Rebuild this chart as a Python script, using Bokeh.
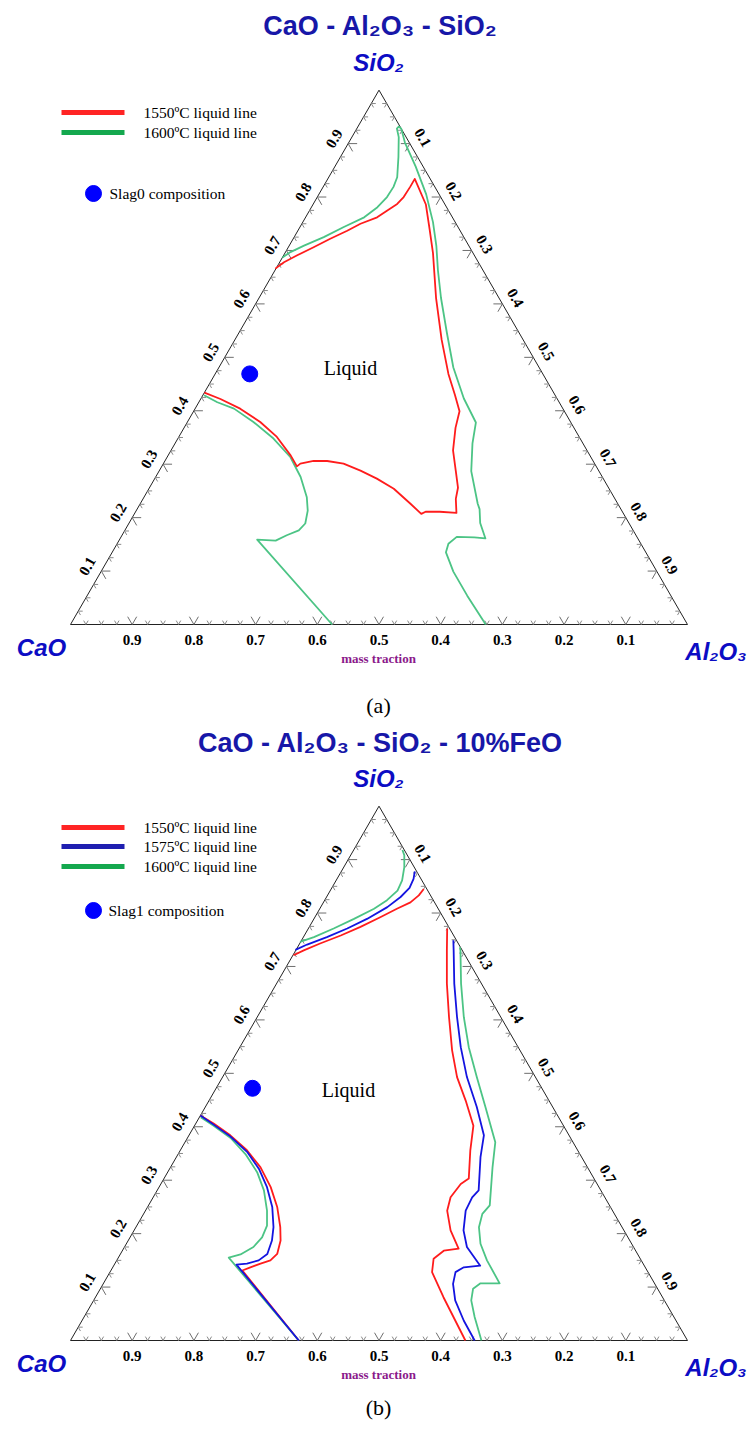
import numpy as np
from bokeh.plotting import figure
from bokeh.models import Range1d
from bokeh.core.properties import value
from bokeh.embed import file_html
from bokeh.resources import INLINE

# ---------------- data: compositions (mass fraction CaO, SiO2) ----------------
# Diagram (a): CaO - Al2O3 - SiO2
A_RED_CAO = [0.566, 0.546, 0.523, 0.503, 0.490, 0.485, 0.485, 0.477, 0.453, 0.431, 0.407, 0.386,
             0.367, 0.349, 0.336, 0.328, 0.319, 0.296, 0.270, 0.258, 0.244, 0.232, 0.217, 0.192,
             0.170, 0.162, 0.153, 0.132, 0.102, 0.065, 0.048, 0.031, 0.025, 0.040, 0.060, 0.077,
             0.099, 0.122, 0.155, 0.183, 0.218, 0.253, 0.287, 0.315, 0.335]
A_RED_SIO2 = [0.434, 0.422, 0.404, 0.379, 0.351, 0.316, 0.296, 0.301, 0.306, 0.306, 0.301, 0.288,
              0.273, 0.254, 0.226, 0.207, 0.211, 0.211, 0.209, 0.235, 0.256, 0.287, 0.326, 0.368,
              0.399, 0.430, 0.469, 0.533, 0.611, 0.695, 0.740, 0.786, 0.834, 0.819, 0.800, 0.787,
              0.775, 0.762, 0.750, 0.737, 0.722, 0.706, 0.691, 0.678, 0.666]

A_GREEN_LOW_CAO = [0.569, 0.554, 0.533, 0.514, 0.497, 0.487, 0.489, 0.498, 0.509, 0.525, 0.542,
                   0.566, 0.589, 0.618, 0.576]
A_GREEN_LOW_SIO2 = [0.429, 0.416, 0.404, 0.379, 0.348, 0.313, 0.276, 0.238, 0.213, 0.189, 0.176,
                    0.167, 0.157, 0.159, 0.000]

A_GREEN_UP_CAO = [0.313, 0.295, 0.267, 0.227, 0.185, 0.143, 0.112, 0.087, 0.067, 0.052, 0.031,
                  0.012, 0.007, 0.002, 0.000, 0.007, 0.012, 0.021, 0.036, 0.053, 0.073, 0.094,
                  0.117, 0.139, 0.151, 0.154, 0.179, 0.207, 0.227, 0.229, 0.241, 0.247, 0.264,
                  0.292, 0.312, 0.324, 0.330, 0.330, 0.327]
A_GREEN_UP_SIO2 = [0.687, 0.697, 0.709, 0.725, 0.744, 0.762, 0.781, 0.800, 0.819, 0.837, 0.875,
                   0.912, 0.928, 0.932, 0.928, 0.902, 0.857, 0.805, 0.753, 0.708, 0.663, 0.611,
                   0.546, 0.481, 0.423, 0.378, 0.339, 0.287, 0.226, 0.216, 0.190, 0.161, 0.163,
                   0.164, 0.151, 0.135, 0.099, 0.054, 0.000]

SLAG0_CAO = [0.475]
SLAG0_SIO2 = [0.469]

# Diagram (b): CaO - Al2O3 - SiO2 - 10%FeO
B_RED_TOP_CAO = [0.278, 0.257, 0.224, 0.183, 0.143, 0.102, 0.067, 0.039, 0.019, 0.005]
B_RED_TOP_SIO2 = [0.721, 0.730, 0.743, 0.758, 0.774, 0.792, 0.808, 0.820, 0.833, 0.845]
B_BLUE_TOP_CAO = [0.270, 0.246, 0.207, 0.166, 0.125, 0.081, 0.050, 0.027, 0.012, 0.003]
B_BLUE_TOP_SIO2 = [0.731, 0.741, 0.755, 0.771, 0.789, 0.811, 0.830, 0.847, 0.864, 0.878]
B_GREEN_TOP_CAO = [0.255, 0.228, 0.188, 0.146, 0.104, 0.075, 0.049, 0.032, 0.016, 0.005, 0.003]
B_GREEN_TOP_SIO2 = [0.746, 0.755, 0.771, 0.789, 0.808, 0.824, 0.842, 0.861, 0.886, 0.908, 0.918]

B_RED_RIGHT_CAO = [0.004, 0.025, 0.056, 0.084, 0.110, 0.127, 0.135, 0.146, 0.174, 0.203, 0.221,
                   0.250, 0.268, 0.281, 0.285, 0.311, 0.335, 0.350, 0.355, 0.360]
B_RED_RIGHT_SIO2 = [0.771, 0.730, 0.668, 0.605, 0.543, 0.493, 0.449, 0.402, 0.356, 0.303, 0.293,
                    0.268, 0.243, 0.206, 0.172, 0.168, 0.153, 0.128, 0.081, 0.000]
B_BLUE_RIGHT_CAO = [0.005, 0.014, 0.044, 0.071, 0.093, 0.111, 0.123, 0.138, 0.164, 0.198, 0.215,
                    0.238, 0.260, 0.270, 0.266, 0.294, 0.312, 0.327, 0.339, 0.344, 0.345]
B_BLUE_RIGHT_SIO2 = [0.749, 0.730, 0.668, 0.605, 0.549, 0.493, 0.437, 0.384, 0.343, 0.281, 0.268,
                     0.243, 0.206, 0.175, 0.140, 0.137, 0.128, 0.106, 0.075, 0.037, 0.000]
B_GREEN_RIGHT_CAO = [0.001, 0.003, 0.033, 0.060, 0.080, 0.095, 0.109, 0.126, 0.154, 0.194, 0.214,
                     0.232, 0.245, 0.250, 0.251, 0.282, 0.299, 0.313, 0.323, 0.334]
B_GREEN_RIGHT_SIO2 = [0.736, 0.730, 0.668, 0.605, 0.549, 0.493, 0.437, 0.371, 0.324, 0.253, 0.237,
                      0.212, 0.181, 0.150, 0.107, 0.107, 0.097, 0.075, 0.044, 0.000]

B_RED_LEFT_CAO = [0.579, 0.565, 0.549, 0.536, 0.530, 0.532, 0.540, 0.554, 0.566, 0.584, 0.601,
                  0.620, 0.640, 0.656, 0.630]
B_RED_LEFT_SIO2 = [0.421, 0.406, 0.384, 0.356, 0.324, 0.287, 0.250, 0.212, 0.187, 0.162, 0.150,
                   0.144, 0.137, 0.131, 0.000]
B_BLUE_LEFT_CAO = [0.579, 0.566, 0.550, 0.537, 0.534, 0.538, 0.548, 0.565, 0.580, 0.600, 0.620,
                   0.642, 0.660, 0.630]
B_BLUE_LEFT_SIO2 = [0.421, 0.404, 0.382, 0.352, 0.321, 0.287, 0.250, 0.212, 0.187, 0.162, 0.150,
                    0.144, 0.142, 0.000]
B_GREEN_LEFT_CAO = [0.580, 0.567, 0.551, 0.542, 0.540, 0.546, 0.560, 0.574, 0.593, 0.616, 0.644,
                    0.666, 0.630]
B_GREEN_LEFT_SIO2 = [0.418, 0.402, 0.379, 0.349, 0.315, 0.281, 0.243, 0.215, 0.193, 0.175, 0.161,
                     0.155, 0.000]

SLAG1_CAO = [0.469]
SLAG1_SIO2 = [0.472]

TICK_VALUES = [0.1, 0.2, 0.3, 0.4, 0.5, 0.6, 0.7, 0.8, 0.9]
TITLES = ["CaO - Al\u2082O\u2083 - SiO\u2082", "CaO - Al\u2082O\u2083 - SiO\u2082 - 10%FeO"]
LEGEND_A = ["1550\u00baC liquid line", "1600\u00baC liquid line"]
LEGEND_B = ["1550\u00baC liquid line", "1575\u00baC liquid line", "1600\u00baC liquid line"]

# ---------------- styles ----------------
RED = "#ff1c1c"
BLUE = "#1414e0"
GREEN = "#4cc485"
LEG_RED = "#ff2424"
LEG_BLUE = "#1f1fb0"
LEG_GREEN = "#14a84e"
TITLE_COLOR = "#1717a8"
VERTEX_COLOR = "#0c0cc4"

# ---------------- figure in page-pixel units (figure drawn from page top-left) ----------------
W, H = 748, 1428
PAGE_H = 1429
p = figure(width=W, height=H, x_range=Range1d(0, W), y_range=Range1d(PAGE_H - H, PAGE_H),
           output_backend="svg", toolbar_location=None, min_border=0)
p.axis.visible = False
p.grid.visible = False
p.outline_line_color = None
p.background_fill_color = "white"
p.border_fill_color = "white"

L = 617.0
X0 = 70.0
HT = L * np.sqrt(3) / 2


def Y(py):
    return PAGE_H - py


def proj(c, s, base):
    c = np.asarray(c, dtype=float)
    s = np.asarray(s, dtype=float)
    return X0 + L * (1 - c - s / 2), Y(base - HT * s)


def txt(x, y, t, font, size, color="black", style="normal", align="center", angle=0.0, baseline="middle"):
    p.text(x=x, y=y, text=t, text_font=value(font), text_font_size=value(size), text_color=color,
           text_font_style=style, text_align=align, text_baseline=baseline, angle=angle)


def draw_triangle(base):
    # outline
    cx, cy = proj([1, 0, 0, 1], [0, 0, 1, 0], base)
    p.line(cx, cy, line_color="#222222", line_width=1)
    # ticks
    x0s, y0s, x1s, y1s = [], [], [], []
    gx0, gy0, gx1, gy1 = [], [], [], []
    r3 = np.sqrt(3) / 2
    for i in range(1, 40):
        t = i / 40.0
        major = (i % 4 == 0)
        ln = 9.0 if major else 4.5
        pts = []
        bx, by = proj([1 - t], [0], base)
        pts.append((bx[0], by[0], [(-0.5, r3), (0.5, r3)]))
        lx, ly = proj([1 - t], [t], base)
        pts.append((lx[0], ly[0], [(1, 0), (0.5, -r3)]))
        rx, ry = proj([0], [t], base)
        pts.append((rx[0], ry[0], [(-1, 0), (-0.5, -r3)]))
        for (px_, py_, dirs) in pts:
            for dx, dy in dirs:
                if major:
                    gx0.append(px_); gy0.append(py_); gx1.append(px_ + ln * dx); gy1.append(py_ + ln * dy)
                else:
                    x0s.append(px_); y0s.append(py_); x1s.append(px_ + ln * dx); y1s.append(py_ + ln * dy)
    p.segment(x0s, y0s, x1s, y1s, line_color="#8a8a8a", line_width=1)
    p.segment(gx0, gy0, gx1, gy1, line_color="#6e6e6e", line_width=1)
    # tick labels
    labs = ["%.1f" % v for v in TICK_VALUES]
    bx, by = proj(TICK_VALUES, [0] * 9, base)
    txt(list(bx), list(by - 15), labs, "Liberation Serif", "15px", style="bold")
    lx, ly = proj([1 - v for v in TICK_VALUES], TICK_VALUES, base)
    txt(list(lx - 14), list(ly + 5), labs, "Liberation Serif", "15px", style="bold", angle=np.pi / 3)
    rx, ry = proj([0] * 9, [1 - v for v in TICK_VALUES], base)
    txt(list(rx + 13), list(ry + 6), labs, "Liberation Serif", "15px", style="bold", angle=-np.pi / 3)
    # vertex names
    txt([378], [Y(base - HT - 28)], ["SiO\u2082"], "Liberation Sans", "24px", VERTEX_COLOR, "bold italic")
    txt([41], [Y(base + 23)], ["CaO"], "Liberation Sans", "24px", VERTEX_COLOR, "bold italic")
    txt([746], [Y(base + 27)], ["Al\u2082O\u2083"], "Liberation Sans", "24px", VERTEX_COLOR, "bold italic",
        align="right")
    txt([378], [Y(base + 34)], ["mass traction"], "Liberation Serif", "13px", "#8b1a8b", "bold")


def curve(c, s, base, color, width=1.8):
    x, y = proj(c, s, base)
    p.line(x, y, line_color=color, line_width=width, line_join="round")


# ---------------- diagram (a) ----------------
BASE_A = 624.0
txt([380], [Y(25)], [TITLES[0]], "Liberation Sans", "27px", TITLE_COLOR, "bold")
draw_triangle(BASE_A)
curve(A_GREEN_LOW_CAO, A_GREEN_LOW_SIO2, BASE_A, GREEN)
curve(A_GREEN_UP_CAO, A_GREEN_UP_SIO2, BASE_A, GREEN)
curve(A_RED_CAO, A_RED_SIO2, BASE_A, RED)
sx, sy = proj(SLAG0_CAO, SLAG0_SIO2, BASE_A)
p.scatter(sx, sy, size=16, marker="circle", fill_color="#0000ff", line_color="#0000ff")
txt([350], [Y(367)], ["Liquid"], "Liberation Serif", "20px")
# legend (a)
p.segment([61, 61], [Y(112), Y(132)], [124, 124], [Y(112), Y(132)], line_color=[LEG_RED, LEG_GREEN],
          line_width=5)
txt([143, 143], [Y(112), Y(132)], LEGEND_A, "Liberation Serif", "15.5px", align="left")
p.scatter([93], [Y(193)], size=16, marker="circle", fill_color="#0000ff", line_color="#0000ff")
txt([109], [Y(193)], ["Slag0 composition"], "Liberation Serif", "15.5px", align="left")
txt([378], [Y(705)], ["(a)"], "Liberation Serif", "22px")

# ---------------- diagram (b) ----------------
BASE_B = 1340.0
txt([380], [Y(742)], [TITLES[1]], "Liberation Sans", "27px", TITLE_COLOR, "bold")
draw_triangle(BASE_B)
for c_, s_, col in [(B_RED_TOP_CAO, B_RED_TOP_SIO2, RED), (B_RED_RIGHT_CAO, B_RED_RIGHT_SIO2, RED),
                    (B_RED_LEFT_CAO, B_RED_LEFT_SIO2, RED),
                    (B_GREEN_TOP_CAO, B_GREEN_TOP_SIO2, GREEN), (B_GREEN_RIGHT_CAO, B_GREEN_RIGHT_SIO2, GREEN),
                    (B_GREEN_LEFT_CAO, B_GREEN_LEFT_SIO2, GREEN),
                    (B_BLUE_TOP_CAO, B_BLUE_TOP_SIO2, BLUE), (B_BLUE_RIGHT_CAO, B_BLUE_RIGHT_SIO2, BLUE),
                    (B_BLUE_LEFT_CAO, B_BLUE_LEFT_SIO2, BLUE)]:
    curve(c_, s_, BASE_B, col)
sx, sy = proj(SLAG1_CAO, SLAG1_SIO2, BASE_B)
p.scatter(sx, sy, size=16, marker="circle", fill_color="#0000ff", line_color="#0000ff")
txt([348], [Y(1089)], ["Liquid"], "Liberation Serif", "20px")
# legend (b)
p.segment([61, 61, 61], [Y(827), Y(846), Y(866)], [124, 124, 124], [Y(827), Y(846), Y(866)],
          line_color=[LEG_RED, LEG_BLUE, LEG_GREEN], line_width=5)
txt([143, 143, 143], [Y(827), Y(846), Y(866)], LEGEND_B, "Liberation Serif", "15.5px", align="left")
p.scatter([93], [Y(910)], size=16, marker="circle", fill_color="#0000ff", line_color="#0000ff")
txt([108], [Y(910)], ["Slag1 composition"], "Liberation Serif", "15.5px", align="left")
txt([378], [Y(1407)], ["(b)"], "Liberation Serif", "22px")

open("out.html", "w").write(file_html(p, INLINE))
